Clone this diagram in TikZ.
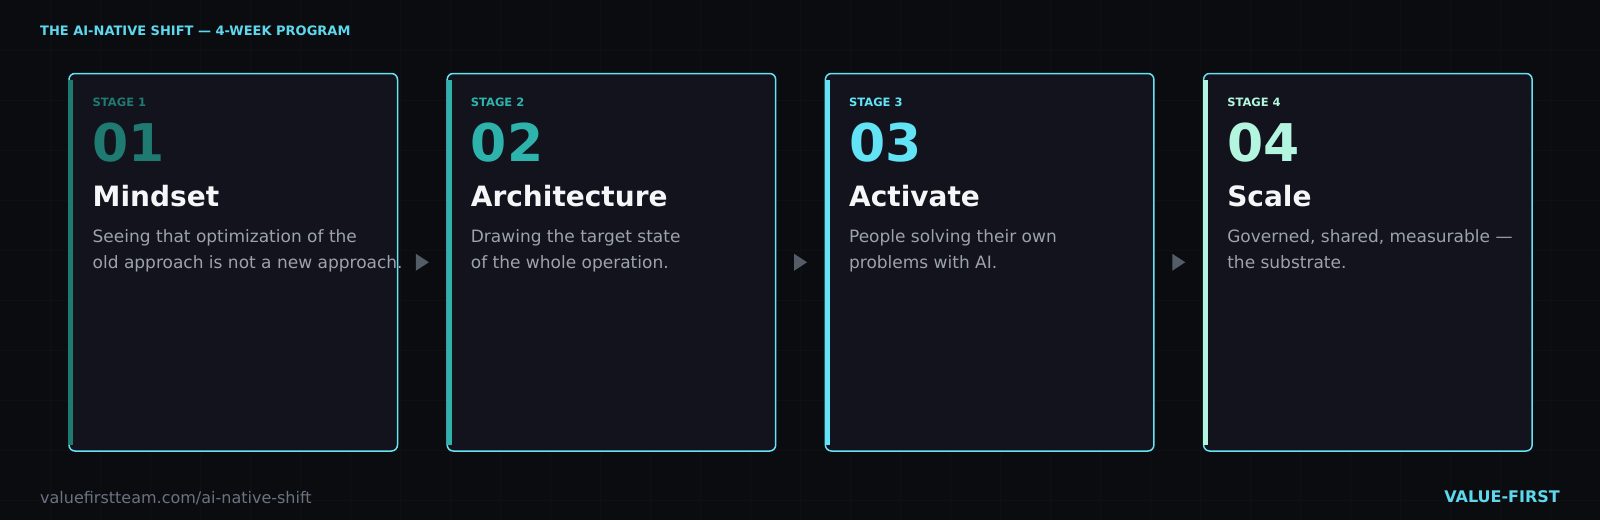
\documentclass[tikz,border=0pt]{standalone}
\usepackage{fontspec}
\setmainfont{DejaVu Sans}
\usepackage{xcolor}
\usepackage{tikz}
\usetikzlibrary{positioning,calc}

\definecolor{bgdark}{HTML}{0B0C10}
\definecolor{gridline}{HTML}{0F1015}
\definecolor{cardfill}{HTML}{12131C}
\definecolor{cardline}{HTML}{67E3F5}
\definecolor{headcyan}{HTML}{5DD8EC}
\definecolor{stageone}{HTML}{1F7A72}
\definecolor{stagetwo}{HTML}{2DB3AC}
\definecolor{stagethree}{HTML}{62E4F6}
\definecolor{stagefour}{HTML}{B3F5DE}
\definecolor{titlewhite}{HTML}{F5F6F8}
\definecolor{desctext}{HTML}{9CA3AF}
\definecolor{arrowgray}{HTML}{545C68}
\definecolor{urlgray}{HTML}{6B7280}

\begin{document}
\begin{tikzpicture}[x=1pt,y=-1pt,
    card/.style={draw=cardline, line width=1.5pt, fill=cardfill, rounded corners=6pt,
        minimum width=328.5pt, minimum height=377.5pt, inner sep=0pt, outer sep=0pt},
    stagelabel/.style={anchor=base west, inner sep=0pt, font=\fontsize{11.5}{14}\selectfont\bfseries},
    bignum/.style={anchor=base west, inner sep=0pt, font=\fontsize{52}{60}\selectfont\bfseries},
    cardtitle/.style={anchor=base west, inner sep=0pt, text=titlewhite, font=\fontsize{28}{32}\selectfont\bfseries},
    cardtext/.style={anchor=base west, inner sep=0pt, align=left, text=desctext, font=\fontsize{17}{26}\selectfont},
    corner/.style={anchor=base west, inner sep=0pt}]

    % background and faint grid
    \fill[bgdark] (0,0) rectangle (1600,520);
    \useasboundingbox (0,0) rectangle (1600,520);
    \foreach \gx in {50,100,...,1550}
        \draw[gridline, line width=0.8pt] (\gx,0) -- (\gx,520);
    \foreach \gy in {50,100,...,500}
        \draw[gridline, line width=0.8pt] (0,\gy) -- (1600,\gy);

    \node[corner, text=headcyan, font=\fontsize{13}{16}\selectfont\bfseries] (header) at (40,35.3)
        {THE AI-NATIVE SHIFT — 4-WEEK PROGRAM};

    \node[card] (card1) at (233.25,262.25) {};
    \node[card] (card2) at (611.45,262.25) {};
    \node[card] (card3) at (989.65,262.25) {};
    \node[card] (card4) at (1367.85,262.25) {};

    \fill[stageone] ($(card1.north west)+(-0.7,6.5)$) rectangle ($(card1.south west)+(4.3,-6.5)$);
    \fill[stagetwo] ($(card2.north west)+(-0.7,6.5)$) rectangle ($(card2.south west)+(4.3,-6.5)$);
    \fill[stagethree] ($(card3.north west)+(-0.7,6.5)$) rectangle ($(card3.south west)+(4.3,-6.5)$);
    \fill[stagefour] ($(card4.north west)+(-0.7,6.5)$) rectangle ($(card4.south west)+(4.3,-6.5)$);

    % stage 1
    \node[stagelabel, text=stageone] (lab1) at ($(card1.north west)+(23.5,32.5)$) {STAGE 1};
    \node[bignum, text=stageone] (num1) at ($(card1.north west)+(23.5,88)$) {01};
    \node[cardtitle] (name1) at ($(card1.north west)+(23.5,132.5)$) {Mindset};
    \node[cardtext] (desc1) at ($(card1.north west)+(23.5,194.8)$)
        {Seeing that optimization of the\\old approach is not a new approach.};

    % stage 2
    \node[stagelabel, text=stagetwo] (lab2) at ($(card2.north west)+(23.5,32.5)$) {STAGE 2};
    \node[bignum, text=stagetwo] (num2) at ($(card2.north west)+(23.5,88)$) {02};
    \node[cardtitle] (name2) at ($(card2.north west)+(23.5,132.5)$) {Architecture};
    \node[cardtext] (desc2) at ($(card2.north west)+(23.5,194.8)$)
        {Drawing the target state\\of the whole operation.};

    % stage 3
    \node[stagelabel, text=stagethree] (lab3) at ($(card3.north west)+(23.5,32.5)$) {STAGE 3};
    \node[bignum, text=stagethree] (num3) at ($(card3.north west)+(23.5,88)$) {03};
    \node[cardtitle] (name3) at ($(card3.north west)+(23.5,132.5)$) {Activate};
    \node[cardtext] (desc3) at ($(card3.north west)+(23.5,194.8)$)
        {People solving their own\\problems with AI.};

    % stage 4
    \node[stagelabel, text=stagefour] (lab4) at ($(card4.north west)+(23.5,32.5)$) {STAGE 4};
    \node[bignum, text=stagefour] (num4) at ($(card4.north west)+(23.5,88)$) {04};
    \node[cardtitle] (name4) at ($(card4.north west)+(23.5,132.5)$) {Scale};
    \node[cardtext] (desc4) at ($(card4.north west)+(23.5,194.8)$)
        {Governed, shared, measurable —\\the substrate.};

    % arrows between the cards
    \path (card1.east) -- (card2.west) coordinate[midway] (gap1);
    \path (card2.east) -- (card3.west) coordinate[midway] (gap2);
    \path (card3.east) -- (card4.west) coordinate[midway] (gap3);
    \fill[arrowgray] ($(gap1)+(-6.5,-8.5)$) -- ($(gap1)+(6.5,0)$) -- ($(gap1)+(-6.5,8.5)$) -- cycle;
    \fill[arrowgray] ($(gap2)+(-6.5,-8.5)$) -- ($(gap2)+(6.5,0)$) -- ($(gap2)+(-6.5,8.5)$) -- cycle;
    \fill[arrowgray] ($(gap3)+(-6.5,-8.5)$) -- ($(gap3)+(6.5,0)$) -- ($(gap3)+(-6.5,8.5)$) -- cycle;

    \node[corner, text=urlgray, font=\fontsize{16}{20}\selectfont] (url) at (40,503.3)
        {valuefirstteam.com/ai-native-shift};
    \node[anchor=base east, inner sep=0pt, text=headcyan, font=\fontsize{16}{20}\selectfont\bfseries] (brand)
        at (1560,502.7) {VALUE-FIRST};
\end{tikzpicture}
\end{document}
